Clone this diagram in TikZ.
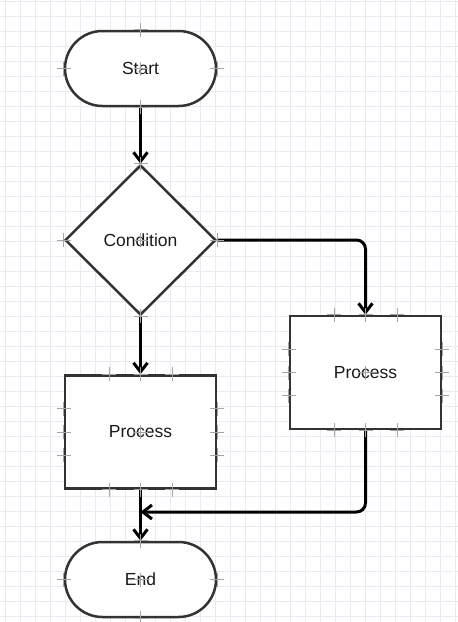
\documentclass[tikz,border=0pt]{standalone}
\usepackage{fontspec}
\setmainfont{Liberation Sans}
\usetikzlibrary{shapes.geometric,arrows.meta}
\definecolor{gridc}{RGB}{234,234,242}
\definecolor{borderc}{RGB}{51,51,51}
\definecolor{txtc}{RGB}{26,26,26}
\definecolor{crossc}{RGB}{165,165,165}
\newcommand\cpmark[2][(0,0)]{\draw[crossline] ([shift={#1},xshift=-7pt]#2) -- ([shift={#1},xshift=7pt]#2) ([shift={#1},yshift=-7pt]#2) -- ([shift={#1},yshift=7pt]#2);}
\begin{document}
\begin{tikzpicture}[x=1pt,y=-1pt,
  gridline/.style={draw=gridc,line width=0.8pt},
  crossline/.style={draw=crossc,line width=0.8pt},
  shapebase/.style={draw=borderc,fill=white,line width=2.5pt,text=txtc,
    font=\fontsize{17.5pt}{21pt}\selectfont,inner sep=0pt},
  terminal/.style={shapebase,rectangle,minimum width=151pt,minimum height=75pt,rounded corners=37.5pt},
  decision/.style={shapebase,diamond,shape aspect=1,minimum width=151pt,minimum height=150pt},
  procbox/.style={shapebase,rectangle,minimum width=151pt,minimum height=113pt},
  conn/.style={draw=black,line width=3pt,-{Straight Barb[length=9pt,width=14pt]}}]
\useasboundingbox (0,0) rectangle (458,622);
\fill[white] (0,0) rectangle (458,622);
\foreach \x in {5,20,...,455} \draw[gridline] (\x,0) -- (\x,622);
\foreach \y in {1,16,...,616} \draw[gridline] (0,\y) -- (458,\y);

\node[terminal] (start) at (140.5,68.5) {Start};
\node[decision] (cond) at (140.5,240) {Condition};
\node[procbox] (p1) at (140.5,432) {Process};
\node[procbox] (p2) at (365.5,372.5) {Process};
\node[terminal] (end) at (140.5,579.5) {End};
\coordinate (merge) at (140.5,512);

\draw[conn] (start) -- (cond);
\draw[conn] (cond) -- (p1);
\draw[conn,rounded corners=9pt] (cond.east) -| (p2.north);
\draw[conn] (p1) -- (end);
\draw[conn,rounded corners=9pt] (p2.south) |- (merge);

% connection point markers
\foreach \n in {start,end,cond} {
  \cpmark{\n.north} \cpmark{\n.south} \cpmark{\n.west} \cpmark{\n.east} \cpmark{\n.center}
}
\foreach \n in {p1,p2} {
  \foreach \d in {-31.5,0,31.5} {
    \cpmark[(\d,0)]{\n.north} \cpmark[(\d,0)]{\n.south}
  }
  \foreach \d in {-23.3,0,23.3} {
    \cpmark[(0,\d)]{\n.west} \cpmark[(0,\d)]{\n.east}
  }
  \cpmark{\n.center}
}
\end{tikzpicture}
\end{document}
